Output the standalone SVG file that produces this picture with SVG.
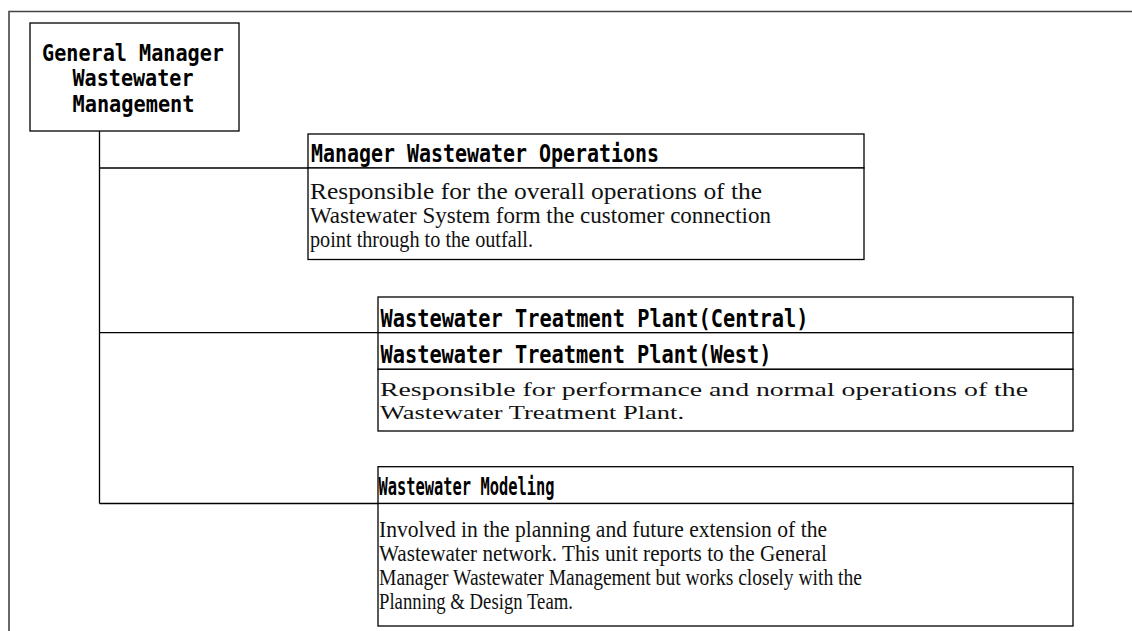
<svg xmlns="http://www.w3.org/2000/svg" width="1132" height="631" viewBox="0 0 1132 631">
<style>
.frame{fill:none;stroke:#444;stroke-width:1.6}
.box{fill:#fff;stroke:#000;stroke-width:1.3}
.ln{fill:none;stroke:#000;stroke-width:1.3}
.hd{font-family:"DejaVu Sans Mono","Liberation Mono",monospace;font-weight:bold;fill:#000}
.ds{font-family:"Liberation Serif","Noto Serif",serif;fill:#111}
</style>
<rect width="1132" height="631" fill="#fff"/>
<path class="frame" d="M9,631 V11.5 H1132"/>
<g id="connectors">
<path class="ln" d="M99.5,131 V503.5"/>
<path class="ln" d="M99.5,168 H308"/>
<path class="ln" d="M99.5,332.7 H378"/>
<path class="ln" d="M99.5,503.5 H378"/>
</g>
<g id="gm">
<rect class="box" x="30" y="23" width="209" height="108"/>
<text class="hd" font-size="23" text-anchor="middle" x="133" y="61" textLength="182" lengthAdjust="spacingAndGlyphs">General Manager</text>
<text class="hd" font-size="23" text-anchor="middle" x="133" y="86" textLength="121" lengthAdjust="spacingAndGlyphs">Wastewater</text>
<text class="hd" font-size="23" text-anchor="middle" x="133.5" y="111.7" textLength="122" lengthAdjust="spacingAndGlyphs">Management</text>
</g>
<g id="mgr-ops">
<rect class="box" x="308" y="134" width="556" height="34"/>
<rect class="box" x="308" y="168" width="556" height="91.5"/>
<text class="hd" font-size="24" x="311" y="161.5" textLength="348" lengthAdjust="spacingAndGlyphs">Manager Wastewater Operations</text>
<text class="ds" font-size="24" x="310" y="199" textLength="452" lengthAdjust="spacingAndGlyphs">Responsible for the overall operations of the</text>
<text class="ds" font-size="24" x="310" y="223" textLength="461" lengthAdjust="spacingAndGlyphs">Wastewater System form the customer connection</text>
<text class="ds" font-size="24" x="310" y="247" textLength="223" lengthAdjust="spacingAndGlyphs">point through to the outfall.</text>
</g>
<g id="wtp-central">
<rect class="box" x="378" y="297" width="695" height="35.7"/>
<text class="hd" font-size="25" x="380.5" y="326.7" textLength="428" lengthAdjust="spacingAndGlyphs">Wastewater Treatment Plant(Central)</text>
</g>
<g id="wtp-west">
<rect class="box" x="378" y="332.7" width="695" height="36.6"/>
<rect class="box" x="378" y="369.3" width="695" height="61.7"/>
<text class="hd" font-size="25" x="380.5" y="362.7" textLength="391" lengthAdjust="spacingAndGlyphs">Wastewater Treatment Plant(West)</text>
<text class="ds" font-size="19" x="380" y="396" textLength="648" lengthAdjust="spacingAndGlyphs">Responsible for performance and normal operations of the</text>
<text class="ds" font-size="19" x="380" y="418.5" textLength="304" lengthAdjust="spacingAndGlyphs">Wastewater Treatment Plant.</text>
</g>
<g id="modeling">
<rect class="box" x="378" y="466.7" width="695" height="36.8"/>
<rect class="box" x="378" y="503.5" width="695" height="122.5"/>
<text class="hd" font-size="24" x="378.5" y="495" textLength="176" lengthAdjust="spacingAndGlyphs">Wastewater Modeling</text>
<text class="ds" font-size="24" x="379" y="537" textLength="448" lengthAdjust="spacingAndGlyphs">Involved in the planning and future extension of the</text>
<text class="ds" font-size="24" x="379" y="561" textLength="448" lengthAdjust="spacingAndGlyphs">Wastewater network. This unit reports to the General</text>
<text class="ds" font-size="24" x="379" y="585" textLength="483" lengthAdjust="spacingAndGlyphs">Manager Wastewater Management but works closely with the</text>
<text class="ds" font-size="24" x="379" y="609" textLength="194" lengthAdjust="spacingAndGlyphs">Planning &amp; Design Team.</text>
</g>
</svg>
